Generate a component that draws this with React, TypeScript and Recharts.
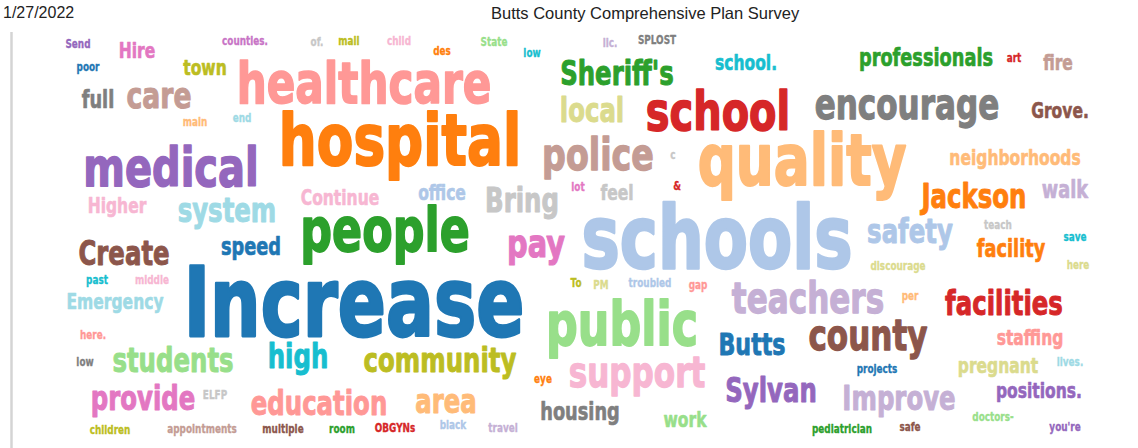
import React from 'react';
import { ReferenceLine, Scatter, ScatterChart, XAxis, YAxis } from 'recharts';

const reportDate = '1/27/2022';
const reportTitle = 'Butts County Comprehensive Plan Survey';

const words = [
  'Send', 'Hire', 'counties.', 'of.', 'mall', 'child', 'des', 'State', 'low', 'lic.', 'SPLOST',
  'poor', 'town', 'school.', 'professionals', 'art', 'fire',
  'healthcare', 'full', 'care', "Sheriff's", 'local', 'school', 'encourage', 'Grove.',
  'main', 'end', 'hospital', 'medical', 'police', 'quality', 'neighborhoods', 'c',
  'Higher', 'Continue', 'office', 'lot', 'feel', '&', 'Bring', 'system', 'Jackson', 'walk',
  'people', 'pay', 'schools', 'safety', 'teach', 'save', 'facility',
  'Create', 'speed', 'past', 'middle', 'discourage', 'here',
  'Increase', 'Emergency', 'To', 'PM', 'troubled', 'gap', 'teachers', 'per', 'facilities',
  'public', 'here.', 'low', 'students', 'high', 'community', 'Butts', 'county', 'staffing',
  'eye', 'support', 'projects', 'pregnant', 'lives.', 'Sylvan', 'Improve', 'positions.',
  'provide', 'ELFP', 'education', 'area', 'housing', 'work', 'doctors-',
  'children', 'appointments', 'multiple', 'room', 'OBGYNs', 'black', 'travel',
  'pediatrician', 'safe', "you're",
];

// how often each word was mentioned
const frequency = [
  1, 4, 1, 1, 1, 1, 1, 1, 1, 1, 1,
  1, 4, 4, 5, 1, 4,
  16, 5, 9, 8, 8, 15, 11, 4,
  1, 1, 21, 15, 12, 21, 4, 1,
  4, 4, 4, 1, 4, 1, 8, 8, 8, 5,
  17, 10, 26, 8, 1, 1, 5,
  8, 5, 1, 1, 1, 1,
  29, 4, 1, 1, 1, 1, 11, 1, 8,
  17, 1, 1, 8, 8, 8, 7, 11, 4,
  1, 11, 1, 4, 1, 8, 8, 4,
  8, 1, 8, 8, 5, 4, 1,
  1, 1, 1, 1, 1, 1, 1,
  1, 1, 1,
];

// word cloud placement (chart units: x = centre, y = baseline)
const cloudX = [
  78, 137, 245, 317, 349, 399, 442, 494, 532, 610, 657,
  88, 205, 746, 926, 1014, 1058,
  364, 98, 159, 617, 592, 718, 907, 1060,
  195, 242, 400, 171, 598, 802, 1015, 673,
  117, 340, 442, 578, 617, 677, 522, 227, 974, 1065,
  385, 536, 717, 910, 998, 1075, 1011,
  124, 251, 97, 152, 898, 1078,
  354, 115, 576, 601, 650, 698, 808, 910, 1004,
  622, 93, 85, 173, 298, 440, 752, 868, 1030,
  543, 637, 877, 998, 1070, 771, 899, 1039,
  143, 215, 319, 446, 580, 685, 993,
  110, 202, 283, 342, 395, 453, 503,
  842, 910, 1065,
];
const cloudY = [
  48, 58, 45, 46, 45, 45, 55, 46, 57, 47, 44,
  71, 75, 70, 66, 62, 70,
  103, 108, 108, 85, 122, 130, 119, 118,
  126, 122, 165, 186, 170, 185, 165, 159,
  213, 205, 200, 191, 200, 190, 212, 222, 208, 198,
  251, 257, 268, 243, 229, 241, 257,
  265, 255, 284, 284, 270, 269,
  336, 309, 287, 289, 287, 289, 313, 300, 315,
  345, 339, 366, 372, 368, 372, 355, 350, 345,
  383, 387, 373, 373, 366, 402, 410, 398,
  410, 399, 415, 413, 420, 427, 421,
  434, 433, 433, 433, 432, 429, 432,
  433, 431, 431,
];

const wordColors = [
  '#9467bd', '#e377c2', '#c874c6', '#c7c7c7', '#bcbd22', '#f7b6d2', '#ff7f0e', '#98df8a', '#17becf', '#c5b0d5', '#7f7f7f',
  '#1f77b4', '#bcbd22', '#17becf', '#2ca02c', '#d62728', '#c49c94',
  '#ff9896', '#7f7f7f', '#c49c94', '#2ca02c', '#dbdb8d', '#d62728', '#7f7f7f', '#8c564b',
  '#ffbb78', '#9edae5', '#ff7f0e', '#9467bd', '#c49c94', '#ffbb78', '#ffbb78', '#c7c7c7',
  '#f7b6d2', '#f7b6d2', '#aec7e8', '#e377c2', '#c7c7c7', '#d62728', '#c7c7c7', '#9edae5', '#ff7f0e', '#c5b0d5',
  '#2ca02c', '#e377c2', '#aec7e8', '#aec7e8', '#c7c7c7', '#17becf', '#ff7f0e',
  '#8c564b', '#1f77b4', '#17becf', '#f7b6d2', '#dbdb8d', '#dbdb8d',
  '#1f77b4', '#9edae5', '#bcbd22', '#dbdb8d', '#aec7e8', '#ff9896', '#c5b0d5', '#ffbb78', '#d62728',
  '#98df8a', '#ff9896', '#7f7f7f', '#98df8a', '#17becf', '#bcbd22', '#1f77b4', '#8c564b', '#ff9896',
  '#ff7f0e', '#f7b6d2', '#1f77b4', '#dbdb8d', '#9edae5', '#9467bd', '#c5b0d5', '#9467bd',
  '#e377c2', '#c7c7c7', '#ff9896', '#ffbb78', '#7f7f7f', '#98df8a', '#98df8a',
  '#bcbd22', '#c49c94', '#8c564b', '#2ca02c', '#d62728', '#aec7e8', '#c5b0d5',
  '#2ca02c', '#8c564b', '#9467bd',
];

const cloudData = words.map((word, i) => ({
  word,
  freq: frequency[i],
  x: cloudX[i],
  y: cloudY[i],
  color: wordColors[i],
}));

const fontSizeFor = (freq: number) => 9 + freq * 3;

// the survey's cloud uses a narrow, heavy face: squeeze DejaVu and thicken it a little
const WordShape = (props: any) => {
  const { cx, cy, payload } = props;
  const size = fontSizeFor(payload.freq);
  return (
    <text
      transform={`translate(${cx},${cy}) scale(0.74,1)`}
      textAnchor="middle"
      fontFamily="'DejaVu Sans', sans-serif"
      fontWeight="bold"
      fontSize={size}
      fill={payload.color}
      stroke={payload.color}
      strokeWidth={size * 0.03}
      strokeLinejoin="round"
    >
      {payload.word}
    </text>
  );
};

const headerStyle: React.CSSProperties = {
  position: 'absolute',
  top: 4,
  fontFamily: "'Liberation Sans', Arial, sans-serif",
  fontSize: 16,
  lineHeight: '18px',
  color: '#222',
  whiteSpace: 'nowrap',
  zIndex: 2,
};

const App = () => {
  return (
    <div style={{ position: 'absolute', left: 0, top: 0, width: 1138, height: 448, background: '#fff' }}>
      <ScatterChart width={1138} height={448} margin={{ top: 0, right: 0, bottom: 0, left: 0 }}>
        <XAxis type="number" dataKey="x" domain={[0, 1138]} hide />
        <YAxis type="number" dataKey="y" domain={[0, 448]} reversed hide />
        <ReferenceLine
          segment={[{ x: 11.5, y: 32 }, { x: 11.5, y: 448 }]}
          stroke="#d4d4d4"
          strokeWidth={2.5}
        />
        <Scatter data={cloudData} shape={WordShape} isAnimationActive={false} />
      </ScatterChart>
      <div style={{ ...headerStyle, left: 3 }}>{reportDate}</div>
      <div style={{ ...headerStyle, left: 491, fontSize: 16.5 }}>{reportTitle}</div>
    </div>
  );
};

export default App;
